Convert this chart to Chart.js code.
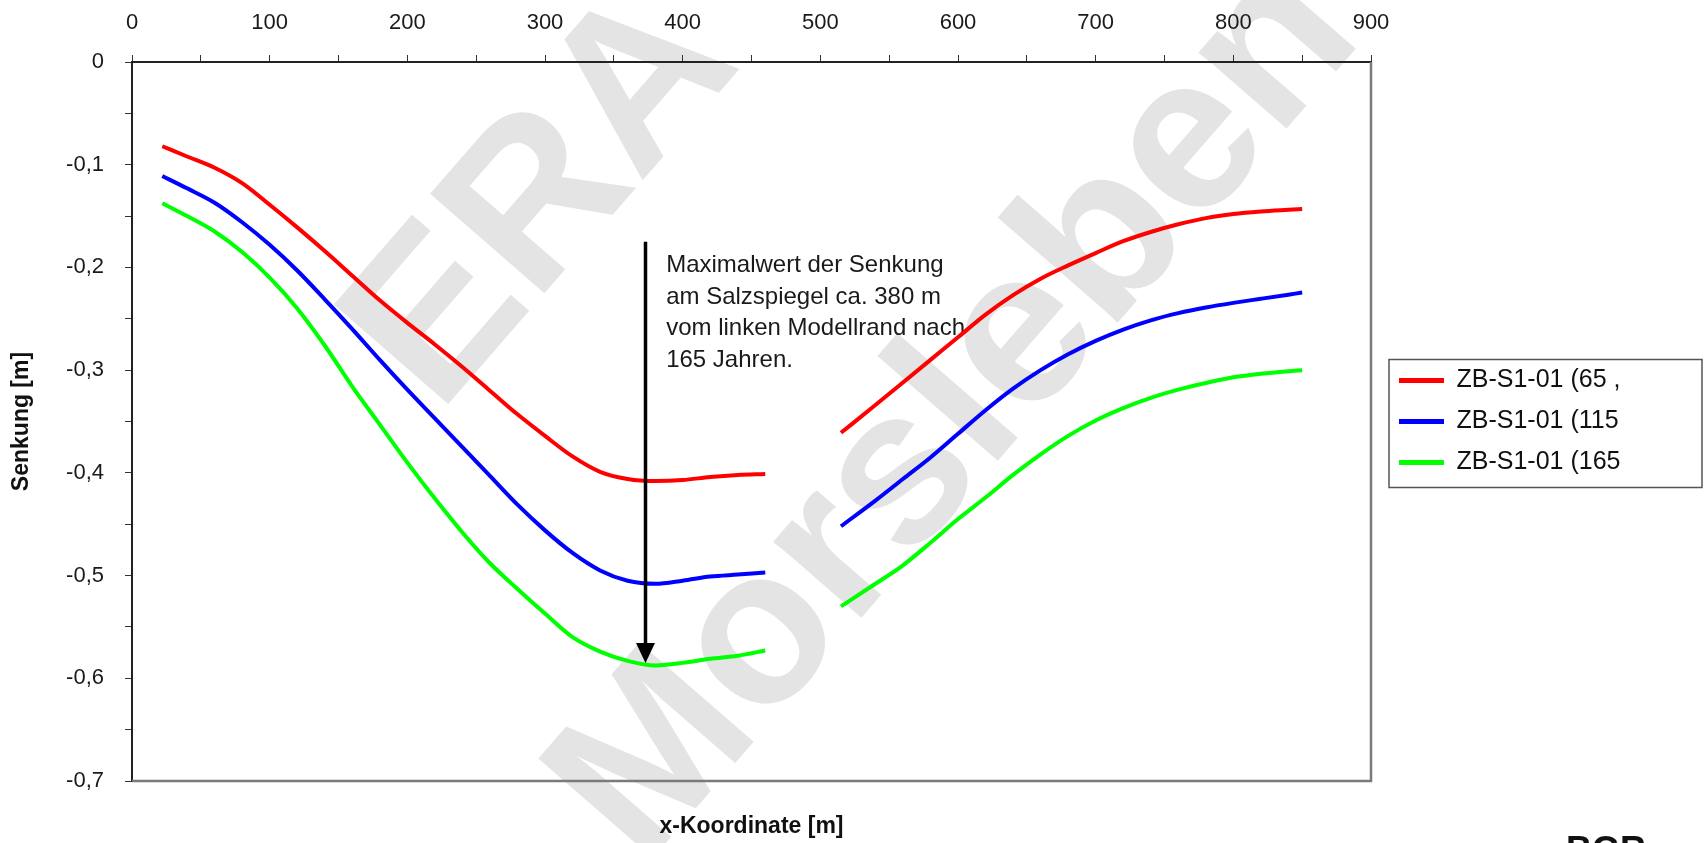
<!DOCTYPE html>
<html>
<head>
<meta charset="utf-8">
<script src="https://cdn.jsdelivr.net/npm/chart.js@4.4.1/dist/chart.umd.min.js"></script>
<style>
html,body{margin:0;padding:0;background:#fff;}
#wrap{width:1708px;height:843px;position:relative;}
</style>
</head>
<body>
<div id="wrap"><canvas id="c" width="1708" height="843"></canvas></div>
<script>
// ---- data (x-Koordinate [m], Senkung [m]) ----
const xLeft  = [22,40,60,80,100,120,140,160,180,200,220,240,260,280,300,320,340,360,380,400,420,440,460];
const xRight = [515,540,560,580,600,620,640,660,680,700,720,740,760,780,800,820,840,850];

const red65Left    = [-0.082,-0.092,-0.103,-0.118,-0.139,-0.161,-0.184,-0.208,-0.232,-0.254,-0.275,-0.297,-0.320,-0.343,-0.364,-0.384,-0.399,-0.406,-0.408,-0.407,-0.404,-0.402,-0.401];
const blue115Left  = [-0.111,-0.123,-0.137,-0.156,-0.178,-0.203,-0.231,-0.260,-0.290,-0.319,-0.347,-0.375,-0.403,-0.431,-0.456,-0.478,-0.495,-0.505,-0.508,-0.505,-0.501,-0.499,-0.497];
const green165Left = [-0.1375,-0.150,-0.165,-0.185,-0.210,-0.240,-0.276,-0.316,-0.353,-0.390,-0.425,-0.458,-0.488,-0.513,-0.537,-0.560,-0.574,-0.583,-0.5875,-0.585,-0.581,-0.578,-0.573];

const red65Right    = [-0.361,-0.334,-0.312,-0.290,-0.268,-0.246,-0.227,-0.211,-0.198,-0.186,-0.1745,-0.1655,-0.158,-0.152,-0.148,-0.1455,-0.1438,-0.143];
const blue115Right  = [-0.452,-0.427,-0.406,-0.385,-0.362,-0.339,-0.318,-0.300,-0.2845,-0.2715,-0.2605,-0.2515,-0.2445,-0.239,-0.2345,-0.2305,-0.2265,-0.2245];
const green165Right = [-0.530,-0.508,-0.490,-0.468,-0.445,-0.424,-0.402,-0.382,-0.364,-0.349,-0.337,-0.327,-0.319,-0.3125,-0.307,-0.3035,-0.301,-0.300];

const seriesLabels = ['ZB-S1-01 (65 ,', 'ZB-S1-01 (115', 'ZB-S1-01 (165'];
const seriesColors = ['#ff0000', '#0000ff', '#00ff00'];

const xTickMin = 0, xTickMax = 900, xMajor = 100, xMinor = 50;
const yTickMin = -0.7, yTickMax = 0, yMajor = 0.1, yMinor = 0.05;

const xTitle = 'x-Koordinate [m]';
const yTitle = 'Senkung [m]';

// annotation (in data units)
const arrowX = 373, arrowTopY = -0.175, arrowTipY = -0.585;
const noteX = 388, noteY = -0.198;
const noteLines = ['Maximalwert der Senkung', 'am Salzspiegel ca. 380 m', 'vom linken Modellrand nach', '165 Jahren.'];

const watermarkLines = ['ERA', 'Morsleben'];

// ---- build ----
const FONT = "'Liberation Sans', Arial, Helvetica, sans-serif";
Chart.defaults.font.family = FONT;

function buildPoints(left, right) {
  const pts = xLeft.map((x, i) => ({x, y: left[i]}));
  pts.push({x: (xLeft[xLeft.length - 1] + xRight[0]) / 2, y: null});
  xRight.forEach((x, i) => pts.push({x, y: right[i]}));
  return pts;
}
const seriesData = [
  buildPoints(red65Left, red65Right),
  buildPoints(blue115Left, blue115Right),
  buildPoints(green165Left, green165Right)
];

const datasets = seriesData.map((d, i) => ({
  label: seriesLabels[i],
  data: d,
  borderColor: seriesColors[i],
  backgroundColor: seriesColors[i],
  borderWidth: 4,
  pointRadius: 0,
  pointHoverRadius: 0,
  cubicInterpolationMode: 'monotone',
  spanGaps: false,
  fill: false
}));

const LEGEND_W = 325;

const decoPlugin = {
  id: 'deco',
  beforeLayout(chart) {
    const lg = chart.legend;
    if (lg && !lg._wpatched) {
      const f = lg.fit;
      lg.fit = function () { f.call(this); this.width = LEGEND_W; };
      lg._wpatched = true;
    }
  },
  beforeDraw(chart) {
    const ctx = chart.ctx;
    ctx.save();
    ctx.fillStyle = '#ffffff';
    ctx.fillRect(0, 0, chart.width, chart.height);
    // watermark
    ctx.fillStyle = '#e4e4e4';
    ctx.font = 'bold 220px ' + FONT;
    ctx.textAlign = 'center';
    ctx.textBaseline = 'middle';
    const centers = [[545, 200], [958, 414]];
    watermarkLines.forEach((t, i) => {
      ctx.save();
      ctx.translate(centers[i][0], centers[i][1]);
      ctx.rotate(-49 * Math.PI / 180);
      ctx.fillText(t, 0, 0);
      ctx.restore();
    });
    ctx.restore();
  },
  beforeDatasetsDraw(chart) {
    const ctx = chart.ctx;
    const xs = chart.scales.x, ys = chart.scales.y;
    ctx.save();
    ctx.fillStyle = '#1a1a1a';
    ctx.font = '24px ' + FONT;
    ctx.textAlign = 'left';
    ctx.textBaseline = 'middle';
    const x0 = xs.getPixelForValue(noteX);
    const y0 = ys.getPixelForValue(noteY);
    noteLines.forEach((t, i) => ctx.fillText(t, x0, y0 + i * 31.7));
    ctx.restore();
  },
  afterDatasetsDraw(chart) {
    const ctx = chart.ctx;
    const xs = chart.scales.x, ys = chart.scales.y;
    const px = xs.getPixelForValue(arrowX);
    const yTop = ys.getPixelForValue(arrowTopY);
    const yTip = ys.getPixelForValue(arrowTipY);
    const head = 20, halfW = 9.5;
    ctx.save();
    ctx.strokeStyle = '#000';
    ctx.fillStyle = '#000';
    ctx.lineWidth = 3.5;
    ctx.beginPath();
    ctx.moveTo(px, yTop);
    ctx.lineTo(px, yTip - head + 2);
    ctx.stroke();
    ctx.beginPath();
    ctx.moveTo(px - halfW, yTip - head);
    ctx.lineTo(px + halfW, yTip - head);
    ctx.lineTo(px, yTip);
    ctx.closePath();
    ctx.fill();
    ctx.restore();
  },
  afterDraw(chart) {
    const ctx = chart.ctx;
    const a = chart.chartArea;
    ctx.save();
    // plot frame right / bottom
    ctx.strokeStyle = '#7a7a7a';
    ctx.lineWidth = 2.5;
    ctx.beginPath();
    ctx.moveTo(a.left, a.bottom);
    ctx.lineTo(a.right, a.bottom);
    ctx.lineTo(a.right, a.top);
    ctx.stroke();
    // legend frame
    const lg = chart.legend;
    if (lg && lg.legendHitBoxes && lg.legendHitBoxes.length) {
      const hb = lg.legendHitBoxes;
      const top = hb[0].top - 8.5;
      const bottom = hb[hb.length - 1].top + 37.5;
      ctx.strokeStyle = '#555';
      ctx.lineWidth = 1.5;
      ctx.strokeRect(lg.left + 6, top, lg.right - lg.left - 12, bottom - top);
    }
    // logo fragment at bottom edge
    ctx.fillStyle = '#111';
    ctx.font = 'bold 36px ' + FONT;
    ctx.textAlign = 'left';
    ctx.textBaseline = 'top';
    ctx.fillText('BGR', 1566, 834);
    ctx.restore();
  }
};

const tickFont = {size: 22, family: FONT};
const tickColor = '#1a1a1a';

new Chart(document.getElementById('c'), {
  type: 'line',
  data: {datasets},
  options: {
    responsive: false,
    animation: false,
    devicePixelRatio: 1,
    layout: {padding: 0},
    plugins: {
      legend: {
        position: 'right',
        align: 'center',
        labels: {
          font: {size: 25, family: FONT},
          color: '#111',
          boxWidth: 45,
          boxHeight: 5,
          padding: 16,
          generateLabels(chart) {
            const items = Chart.defaults.plugins.legend.labels.generateLabels(chart);
            items.forEach(it => { it.lineWidth = 0; it.fillStyle = it.strokeStyle; });
            return items;
          }
        }
      },
      tooltip: {enabled: false}
    },
    scales: {
      x: {
        type: 'linear',
        position: 'top',
        min: xTickMin, max: xTickMax,
        ticks: {
          stepSize: xMinor, autoSkip: false, maxRotation: 0, padding: 19,
          font: tickFont, color: tickColor,
          callback: v => (Math.round(v) % xMajor === 0 ? String(Math.round(v)) : '')
        },
        grid: {display: true, drawOnChartArea: false, drawTicks: true, tickLength: 7, color: '#333', lineWidth: 1},
        border: {display: true, color: '#222', width: 2},
        afterFit(s) { s.height = 62; }
      },
      x2: {
        type: 'linear',
        position: 'bottom',
        display: true,
        ticks: {display: false},
        grid: {display: false},
        border: {display: false},
        title: {display: true, text: xTitle, color: '#111', font: {size: 23, weight: 'bold', family: FONT}, padding: {top: 0, bottom: 3}},
        afterFit(s) { s.height = 62; }
      },
      y: {
        type: 'linear',
        position: 'left',
        min: yTickMin, max: yTickMax,
        ticks: {
          stepSize: yMinor, autoSkip: false, padding: 21,
          font: tickFont, color: tickColor,
          callback: v => {
            const k = Math.round(v * 100);
            if (k % Math.round(yMajor * 100) !== 0) return '';
            if (k === 0) return '0';
            return (k / 100).toFixed(1).replace('.', ',');
          }
        },
        grid: {display: true, drawOnChartArea: false, drawTicks: true, tickLength: 7, color: '#333', lineWidth: 1},
        border: {display: true, color: '#222', width: 2},
        title: {display: true, text: yTitle, color: '#111', font: {size: 23, weight: 'bold', family: FONT}, padding: {top: 8, bottom: 0}},
        afterFit(s) { s.width = 132; }
      },
      y2: {
        type: 'linear',
        position: 'right',
        display: true,
        ticks: {display: false},
        grid: {display: false},
        border: {display: false},
        afterFit(s) { s.width = 12; }
      }
    }
  },
  plugins: [decoPlugin]
});
</script>
</body>
</html>
